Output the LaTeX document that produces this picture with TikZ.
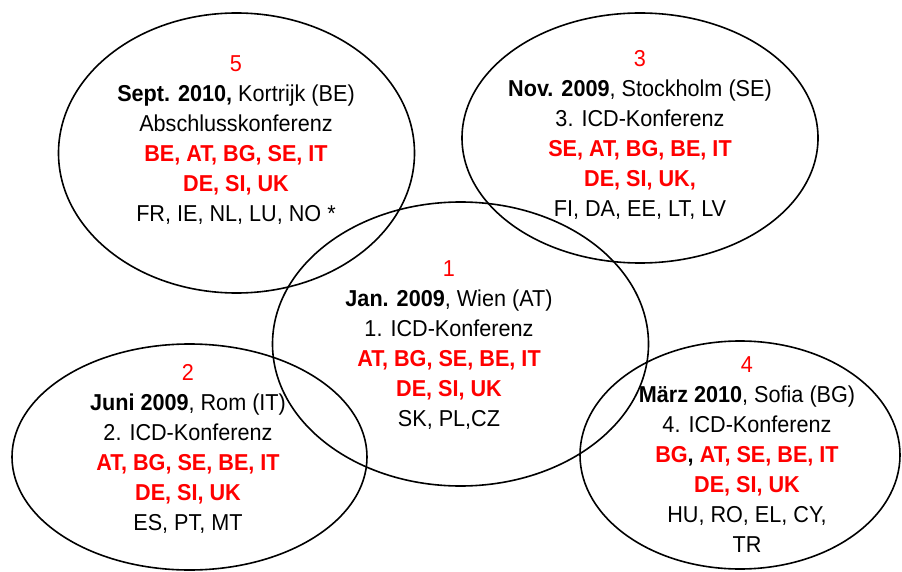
\documentclass[tikz,border=0pt]{standalone}
\usepackage{fontspec}
\setmainfont[FakeStretch=0.94]{Liberation Sans}
\newcommand{\rb}[1]{\textcolor{red}{\textbf{#1}}}
\tikzset{every picture/.style={line width=1.6pt}}
\tikzset{konf/.style={align=center, font=\fontsize{23}{30}\selectfont}}

\begin{document}
\begin{tikzpicture}[x=1pt,y=-1pt]
        \useasboundingbox (0,0) rectangle (902,572);
        \draw (236.5,153) ellipse [x radius=178pt, y radius=140pt];
        \draw (640,138) ellipse [x radius=178pt, y radius=125pt];
        \draw (460.5,344) ellipse [x radius=188pt, y radius=142pt];
        \draw (189.5,457) ellipse [x radius=177.5pt, y radius=113pt];
        \draw (740,455) ellipse [x radius=160pt, y radius=114pt];
        \node[konf] (wien) at (449,345) {\textcolor{red}{1}\\ \textbf{Jan. 2009}, Wien (AT)\\ 1. ICD-Konferenz\\ \rb{AT, BG, SE, BE, IT}\\ \rb{DE, SI, UK}\\ SK, PL,CZ};
        \node[konf] (rom) at (188,449) {\textcolor{red}{2}\\ \textbf{Juni 2009}, Rom (IT)\\ 2. ICD-Konferenz\\ \rb{AT, BG, SE, BE, IT}\\ \rb{DE, SI, UK}\\ ES, PT, MT};
        \node[konf] (stockholm) at (640,135) {\textcolor{red}{3}\\ \textbf{Nov. 2009}, Stockholm (SE)\\ 3. ICD-Konferenz\\ \rb{SE, AT, BG, BE, IT}\\ \rb{DE, SI, UK,}\\ FI, DA, EE, LT, LV};
        \node[konf] (sofia) at (747,455) {\textcolor{red}{4}\\ \textbf{März 2010}, Sofia (BG)\\ 4. ICD-Konferenz\\ \rb{BG}\textbf{,} \rb{AT, SE, BE, IT}\\ \rb{DE, SI, UK}\\ HU, RO, EL, CY,\\ TR};
        \node[konf] (kortrijk) at (236,140) {\textcolor{red}{5}\\ \textbf{Sept. 2010,} Kortrijk (BE)\\ Abschlusskonferenz\\ \rb{BE, AT, BG, SE, IT}\\ \rb{DE, SI, UK}\\ FR, IE, NL, LU, NO *};
\end{tikzpicture}
\end{document}
